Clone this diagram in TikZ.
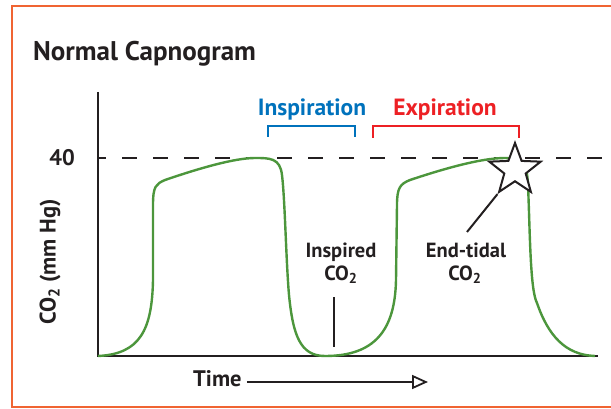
\documentclass[tikz,border=0pt]{standalone}
\usepackage{fontspec}
\setmainfont{PT Sans}
\usetikzlibrary{shapes.geometric,arrows.meta}
\definecolor{frameor}{RGB}{240,100,50}
\definecolor{txt}{RGB}{35,31,32}
\definecolor{inblue}{RGB}{0,114,188}
\definecolor{exred}{RGB}{237,32,36}
\definecolor{curvegreen}{RGB}{76,150,60}
\tikzset{
  lbl/.style={font=\bfseries, text=txt, inner sep=0pt},
  axisline/.style={draw=txt, line width=2.4pt},
  bracketline/.style={line width=2pt},
  wave/.style={draw=curvegreen, line width=2.4pt, line join=round},
  midfont/.style={font=\bfseries\fontsize{20.5}{24}\selectfont},
  headfont/.style={font=\bfseries\fontsize{23.5}{28}\selectfont},
}
\begin{document}
\begin{tikzpicture}[x=1pt,y=-1pt]
\useasboundingbox (0,0) rectangle (611,409);
\clip (0,0) rectangle (611,409);
% frame
\draw[frameor, line width=2.6pt] (620,6) -- (12,6) -- (12,407) -- (620,407);
% title
\node[lbl, font=\bfseries\fontsize{27}{32}\selectfont, anchor=base west] (title) at (33,61) {Normal Capnogram};
% axes
\coordinate (origin) at (98,356);
\coordinate (ytop) at (98,92);
\coordinate (xend) at (598,356);
\draw[axisline] (ytop) -- (origin) -- (xend);
% 40 line
\coordinate (d0) at (98,158);
\coordinate (d1) at (611,158);
\draw[txt, line width=2.2pt, dash pattern=on 15pt off 16pt, dash phase=7pt] (d0) -- (d1);
\node[lbl, font=\bfseries\fontsize{22.5}{26}\selectfont, anchor=east] (forty) at (75,158) {40};
% y label
\node[lbl, font=\bfseries\fontsize{22.5}{26}\selectfont, rotate=90] (ylab) at (50,262) {CO\textsubscript{2} (mm Hg)};
% waveform
\draw[wave] (98,356) .. controls (140,354) and (152,330) .. (153,280)
  -- (153,205) .. controls (153,186) and (156,184) .. (165,180)
  .. controls (200,168) and (235,158) .. (255,158)
  .. controls (270,158) and (280,158) .. (282,175)
  .. controls (285,200) and (286,260) .. (289,295)
  .. controls (293,335) and (300,356) .. (325,356)
  .. controls (375,356) and (395,330) .. (396,280)
  -- (397,205) .. controls (397,188) and (400,184) .. (410,180)
  .. controls (440,170) and (480,158) .. (505,158)
  .. controls (520,158) and (527,160) .. (528,185)
  .. controls (530,230) and (530,290) .. (537,303)
  .. controls (548,335) and (565,355) .. (595,356);
% star
\node[star, star points=5, star point ratio=2.4, minimum size=54pt, inner sep=0pt,
      draw=txt, line width=2pt, fill=white] (star) at (515,170) {};
% inspiration bracket
\node[lbl, text=inblue, headfont, anchor=base] (insp) at (312,116) {Inspiration};
\coordinate (ib1) at (268,137); \coordinate (ib2) at (268,126);
\coordinate (ib3) at (355,126); \coordinate (ib4) at (355,137);
\draw[inblue, bracketline] (ib1) -- (ib2) -- (ib3) -- (ib4);
% expiration bracket
\node[lbl, text=exred, headfont, anchor=base] (expi) at (445,116) {Expiration};
\coordinate (eb1) at (373,138); \coordinate (eb2) at (373,126);
\coordinate (eb3) at (519,126); \coordinate (eb4) at (519,138);
\draw[exred, bracketline] (eb1) -- (eb2) -- (eb3) -- (eb4);
% inspired CO2
\node[lbl, midfont, anchor=base] (inspired) at (341,257) {Inspired};
\node[lbl, midfont, anchor=base] (inspco) at (341,280) {CO\textsubscript{2}};
\coordinate (il1) at (334,297); \coordinate (il2) at (334,347);
\draw[txt, line width=2pt] (il1) -- (il2);
% end tidal
\node[lbl, midfont, anchor=base] (endtidal) at (466,257) {End-tidal};
\node[lbl, midfont, anchor=base] (etco) at (465,280) {CO\textsubscript{2}};
\coordinate (etl) at (467,232);
\draw[txt, line width=2pt] (etl) -- (star.outer point 3);
% time
\node[lbl, font=\bfseries\fontsize{22.5}{26}\selectfont, anchor=base west] (time) at (193,386) {Time};
\coordinate (tend) at (428,382);
\draw[txt, line width=1.8pt, -{Triangle[open, length=16pt, width=14pt, line width=1.8pt]}] (time.east |- tend) ++(5,0) -- (tend);
\end{tikzpicture}
\end{document}
